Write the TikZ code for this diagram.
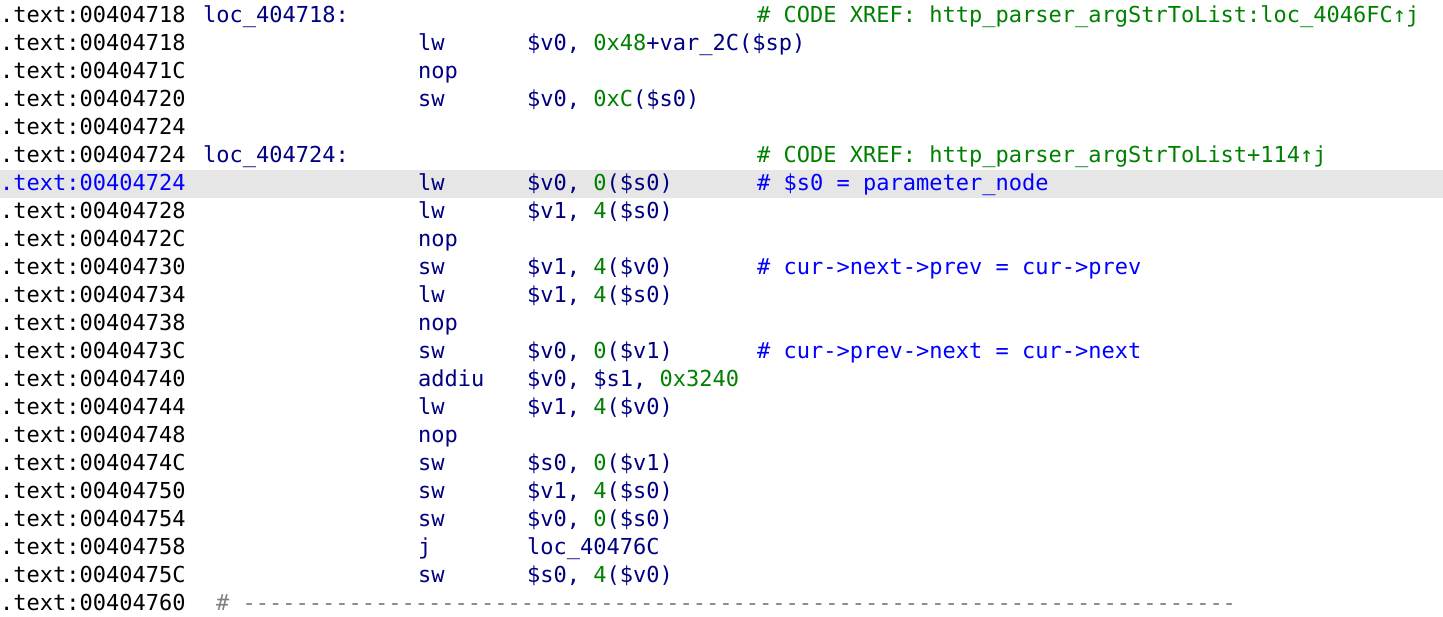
\documentclass[tikz,border=0pt]{standalone}
\usepackage{fontspec}
\setmonofont{DejaVu Sans Mono}
\definecolor{navy}{RGB}{0,0,128}
\definecolor{grn}{RGB}{0,128,0}
\definecolor{blu}{RGB}{0,0,255}
\definecolor{hl}{RGB}{230,230,230}
\definecolor{dgray}{RGB}{128,128,128}
\newcommand{\G}[1]{\textcolor{grn}{#1}}
\begin{document}
\begin{tikzpicture}[x=1pt,y=-1pt,
  txt/.style={anchor=base west,inner sep=0pt,font=\ttfamily\fontsize{22pt}{22pt}\selectfont},
  addrtxt/.style={txt,text=black},
  labtxt/.style={txt,text=navy},
  mntxt/.style={txt,text=navy},
  optxt/.style={txt,text=navy},
  cmttxt/.style={txt,text=blu},
  xreftxt/.style={txt,text=grn}]
\useasboundingbox (0,0) rectangle (1443,616);
\fill[hl] (0,170) rectangle (1443,198);
\def\ax{0}\def\lx{203}\def\mx{418}\def\ox{527}\def\cx{757}
\foreach \i/\a in {0/00404718,1/00404718,2/0040471C,3/00404720,4/00404724,5/00404724,7/00404728,8/0040472C,9/00404730,10/00404734,11/00404738,12/0040473C,13/00404740,14/00404744,15/00404748,16/0040474C,17/00404750,18/00404754,19/00404758,20/0040475C,21/00404760}
  \node[addrtxt] (a\i) at (\ax,{22+28*\i}) {.text:\a};
\node[addrtxt,text=blu] (a6) at (\ax,{22+28*6}) {.text:00404724};
\node[labtxt] (l0) at (\lx,{22}) {loc\_404718:};
\node[xreftxt] (x0) at (\cx,{22}) {\# CODE XREF: http\_parser\_argStrToList:loc\_4046FC↑j};
\node[labtxt] (l5) at (\lx,{22+28*5}) {loc\_404724:};
\node[xreftxt] (x5) at (\cx,{22+28*5}) {\# CODE XREF: http\_parser\_argStrToList+114↑j};
\foreach \i/\m/\o in {1/lw/{\$v0, \G{0x48}+var\_2C(\$sp)},2/nop/{},3/sw/{\$v0, \G{0xC}(\$s0)},6/lw/{\$v0, \G{0}(\$s0)},7/lw/{\$v1, \G{4}(\$s0)},8/nop/{},9/sw/{\$v1, \G{4}(\$v0)},10/lw/{\$v1, \G{4}(\$s0)},11/nop/{},12/sw/{\$v0, \G{0}(\$v1)},13/addiu/{\$v0, \$s1, \G{0x3240}},14/lw/{\$v1, \G{4}(\$v0)},15/nop/{},16/sw/{\$s0, \G{0}(\$v1)},17/sw/{\$v1, \G{4}(\$s0)},18/sw/{\$v0, \G{0}(\$s0)},19/j/{loc\_40476C},20/sw/{\$s0, \G{4}(\$v0)}}
 {\node[mntxt] (m\i) at (\mx,{22+28*\i}) {\m};
  \node[optxt] (o\i) at (\ox,{22+28*\i}) {\o};}
\node[cmttxt] (c6) at (\cx,{22+28*6}) {\# \$s0 = parameter\_node};
\node[cmttxt] (c9) at (\cx,{22+28*9}) {\# cur->next->prev = cur->prev};
\node[cmttxt] (c12) at (\cx,{22+28*12}) {\# cur->prev->next = cur->next};
\node[txt,text=dgray] (d21) at (216,{22+28*21}) {\# ---------------------------------------------------------------------------};
\end{tikzpicture}
\end{document}
